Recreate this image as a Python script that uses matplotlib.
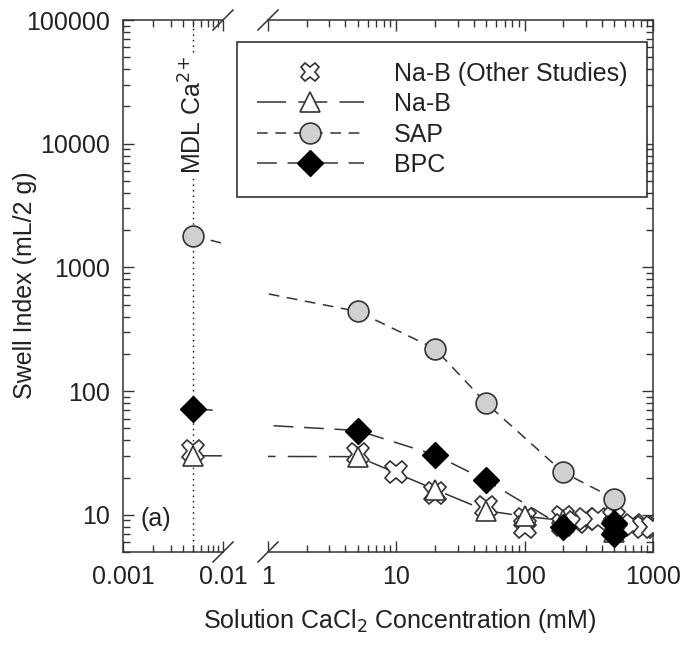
import matplotlib
matplotlib.use('Agg')
import matplotlib.pyplot as plt
import numpy as np
from matplotlib.lines import Line2D
from matplotlib.ticker import LogLocator, FuncFormatter, NullFormatter

plt.rcParams['font.family'] = ['Liberation Sans', 'DejaVu Sans']

# detection limit of Ca2+ (mM), plotted on the left part of the broken axis
mdl = 0.005

# Na-B (other studies): scattered points, no line
x_other = [mdl, 5, 10, 20, 50, 100, 100, 200, 200, 250, 300, 370, 500, 500, 700, 850, 1000]
y_other = [33, 31, 22, 15, 11.5, 9.3, 7.9, 9.6, 8.2, 8.7, 9.3, 9.3, 9.5, 8.0, 8.3, 8.0, 8.0]

# Na-B (this study)
x_nab = [mdl, 5, 20, 50, 100, 200, 500]
y_nab = [30, 29.5, 16, 10.8, 9.7, 9.0, 7.3]

# SAP
x_sap = [mdl, 5, 20, 50, 200, 500]
y_sap = [1800, 440, 220, 80, 22, 13.5]

# BPC
x_bpc = [mdl, 5, 20, 50, 200, 500, 500]
y_bpc = [72, 48, 30.5, 19, 8.0, 8.6, 7.0]

ink = '#333333'
txt = '#222222'
fs = 18

fig = plt.figure(figsize=(6.87, 6.46), dpi=100)
W, H = 687, 646


def px_axes(x0, x1, y0, y1):
    return fig.add_axes([x0 / W, 1 - y1 / H, (x1 - x0) / W, (y1 - y0) / H])


axl = px_axes(123, 223, 20, 552)
axr = px_axes(268, 653, 20, 552)

series = [
    (x_nab, y_nab, dict(marker='^', ms=15, mfc='white', mec=ink, mew=1.2), (0, (19, 8)), 4),
    (x_sap, y_sap, dict(marker='o', ms=15, mfc='#d0d0d0', mec=ink, mew=1.2), (0, (7, 5)), 5),
    (x_bpc, y_bpc, dict(marker='D', ms=13, mfc='black', mec='black', mew=1), (0, (13, 7)), 6),
]
other_style = dict(marker='X', ms=16, mfc='white', mec=ink, mew=1.2, ls='none')

for ax in (axl, axr):
    ax.set_xscale('log')
    ax.set_yscale('log')
    ax.set_ylim(5, 100000)
    for xs, ys, mk, dash, z in series:
        ax.plot(xs, ys, ls=dash, color=ink, lw=1.1, zorder=2)
    ax.plot(x_other, y_other, zorder=3, **other_style)
    for xs, ys, mk, dash, z in series:
        ax.plot(xs, ys, ls='none', zorder=z, **mk)
    ax.tick_params(which='both', direction='in', top=True, colors=ink,
                   labelsize=fs, labelcolor=txt, pad=9)
    ax.tick_params(which='major', length=8, width=1)
    ax.tick_params(which='minor', length=5, width=1)
    ax.xaxis.set_major_locator(LogLocator(base=10, numticks=20))
    ax.xaxis.set_minor_locator(LogLocator(base=10, subs=np.arange(2, 10), numticks=20))
    ax.xaxis.set_minor_formatter(NullFormatter())
    ax.xaxis.set_major_formatter(FuncFormatter(lambda v, p: ('%g' % v)))
    for s in ax.spines.values():
        s.set_color(ink)
        s.set_linewidth(1.1)

axl.set_xlim(0.001, 0.01)
axr.set_xlim(1, 1000)

axl.spines['right'].set_visible(False)
axr.spines['left'].set_visible(False)
axl.tick_params(which='both', axis='y', left=True, right=False)
axr.tick_params(which='both', axis='y', left=False, right=True, labelleft=False)

axl.yaxis.set_major_locator(LogLocator(base=10, numticks=20))
axl.yaxis.set_minor_locator(LogLocator(base=10, subs=np.arange(2, 10), numticks=20))
axl.yaxis.set_major_formatter(FuncFormatter(lambda v, p: '%d' % v))
axl.yaxis.set_minor_formatter(NullFormatter())
axr.yaxis.set_major_locator(LogLocator(base=10, numticks=20))
axr.yaxis.set_minor_locator(LogLocator(base=10, subs=np.arange(2, 10), numticks=20))

# MDL marker line and label
axl.axvline(mdl, color='black', ls=(0, (1, 3)), lw=1, zorder=1)
axl.text(mdl, 17000, 'MDL Ca$^{2{+}}$', rotation=90, ha='center', va='center',
         fontsize=fs, color=txt, zorder=2,
         bbox=dict(facecolor='white', edgecolor='none', pad=1))
axl.text(0.33, 0.062, '(a)', transform=axl.transAxes, ha='center', va='center',
         fontsize=fs, color=txt)

fig.text(25 / W, 1 - 285 / H, 'Swell Index (mL/2 g)', rotation=90,
         ha='center', va='center', fontsize=fs, color=txt)
fig.text(400 / W, 1 - 621 / H, 'Solution CaCl$_2$ Concentration (mM)',
         ha='center', va='center', fontsize=fs, color=txt)

# axis break slashes
d = 10
for xc in (223, 268):
    for yc in (20, 552):
        fig.add_artist(Line2D([(xc - d) / W, (xc + d) / W],
                              [1 - (yc + d) / H, 1 - (yc - d) / H],
                              color=ink, lw=1.1))

# legend
handles = [Line2D([], [], **other_style)]
for xs, ys, mk, dash, z in series:
    handles.append(Line2D([], [], ls=dash, color=ink, lw=1.1, **mk))
labels = ['Na-B (Other Studies)', 'Na-B', 'SAP', 'BPC']
handles[0].set_markersize(13)
leg = fig.legend(handles, labels, loc='upper left',
                 bbox_to_anchor=(237 / W, 1 - 42 / H), fontsize=fs,
                 handlelength=4.28, handletextpad=1.2, borderpad=0.78,
                 borderaxespad=0, labelspacing=0.26, fancybox=False,
                 frameon=True, framealpha=1)
leg.get_frame().set_edgecolor(txt)
leg.get_frame().set_linewidth(1.1)
for t in leg.get_texts():
    t.set_color(txt)

fig.savefig('out.png', dpi=100)
